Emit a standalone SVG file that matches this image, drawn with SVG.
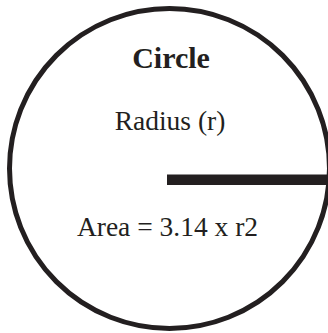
<svg xmlns="http://www.w3.org/2000/svg" width="328" height="333" viewBox="0 0 328 333">
  <style>
    .ink { fill: #231f20; }
    .lbl { font-family: "Liberation Serif", "DejaVu Serif", serif; font-size: 27.5px; fill: #231f20; text-anchor: middle; }
    .title { font-weight: bold; font-size: 30px; }
  </style>
  <rect width="328" height="333" fill="#ffffff"/>
  <g id="circle">
    <circle cx="169.5" cy="168.5" r="160" fill="none" stroke="#231f20" stroke-width="5"/>
    <text class="lbl title" x="171" y="67.5">Circle</text>
    <text class="lbl" x="170" y="130">Radius (r)</text>
    <text class="lbl" x="167.5" y="236">Area = 3.14 x r2</text>
  </g>
  <g id="radius">
    <rect class="ink" x="167" y="174.5" width="165" height="10.5"/>
  </g>
</svg>
